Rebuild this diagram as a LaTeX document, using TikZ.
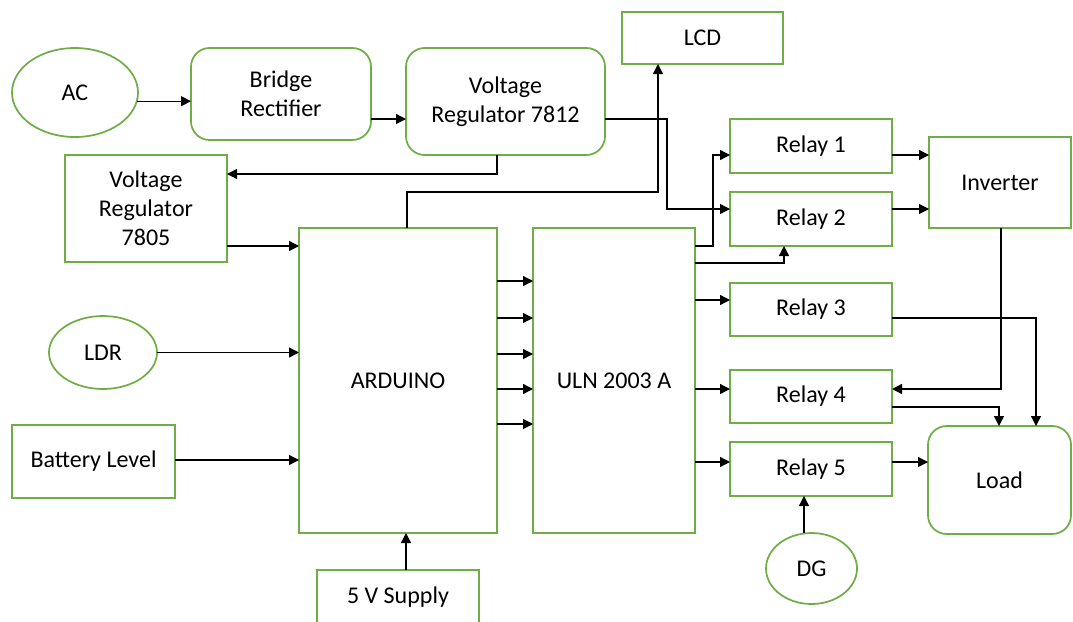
\documentclass[tikz,border=0pt]{standalone}
\usepackage{fontspec}
\setmainfont{Carlito}
\usetikzlibrary{shapes.geometric,arrows.meta}
\definecolor{boxgreen}{HTML}{70AD47}
\newcommand{\mkbox}[7][]{\node[#1, minimum width={(#5-#3)*0.75pt}, minimum height={(#6-#4)*0.75pt}] (#2) at ({(#3+#5)/2},{(#4+#6)/2}) {#7};}
\tikzset{
  base/.style={draw=boxgreen, line width=1.3pt, inner sep=0pt, outer sep=0pt, align=center,
    font=\fontsize{18}{21.75}\selectfont, text=black},
  blockbox/.style={base, rectangle},
  roundbox/.style={base, rectangle, rounded corners=14pt},
  oval/.style={base, ellipse},
  arr/.style={-{Triangle[length=7.5pt,width=7.5pt]}, line width=1pt, black}
}
\begin{document}
\begin{tikzpicture}[x=0.75pt,y=-0.75pt]
\useasboundingbox (0,0) rectangle (1073,621);
% nodes
\mkbox[oval]{ac}{12}{48}{138}{137}{AC}
\mkbox[roundbox]{bridge}{191}{48}{371}{140}{Bridge\\Rectifier}
\mkbox[roundbox]{vr12}{406}{48}{605}{155}{Voltage\\Regulator 7812}
\mkbox[blockbox]{lcd}{622}{12}{783}{64}{LCD}
\mkbox[blockbox]{vr5}{65}{155}{227}{262}{Voltage\\Regulator\\7805}
\mkbox[blockbox]{ard}{299}{228}{497}{533}{ARDUINO}
\mkbox[blockbox]{uln}{533}{228}{695}{533}{ULN 2003 A}
\mkbox[oval]{ldr}{49}{316}{157}{389}{LDR}
\mkbox[blockbox]{bat}{12}{425}{175}{498}{Battery Level}
\mkbox[blockbox]{sup}{317}{570}{479}{625}{5 V Supply}
\mkbox[blockbox]{r1}{730}{119}{892}{173}{Relay 1}
\mkbox[blockbox]{r2}{730}{192}{892}{246}{Relay 2}
\mkbox[blockbox]{r3}{730}{283}{892}{336}{Relay 3}
\mkbox[blockbox]{r4}{730}{370}{892}{423}{Relay 4}
\mkbox[blockbox]{r5}{730}{442}{892}{496}{Relay 5}
\mkbox[blockbox]{inv}{929}{137}{1071}{228}{Inverter}
\mkbox[roundbox]{load}{928}{426}{1071}{534}{Load}
\mkbox[oval]{dg}{766}{533}{857}{604}{DG}
% connectors
\draw[arr] (ac.-8) -- (ac.-8 -| bridge.west);
\draw[arr] (bridge.east |- 0,119) -- (vr12.west |- 0,119);
\draw[arr] (vr12.south -| 497,0) |- (vr5.east |- 0,174);
\draw[arr] (vr5.east |- 0,246) -- (ard.west |- 0,246);
\draw[arr] (ard.north -| 407,0) |- (658,192) -- (lcd.south -| 658,0);
\draw[arr] (vr12.east |- 0,119) -| (667,209) -- (r2.west |- 0,209);
\draw[arr] (uln.east |- 0,246) -| (713,155) -- (r1.west |- 0,155);
\draw[arr] (uln.east |- 0,263) -| (r2.south -| 784,0);
\draw[arr] (uln.east |- 0,300) -- (r3.west |- 0,300);
\draw[arr] (uln.east |- 0,389) -- (r4.west |- 0,389);
\draw[arr] (uln.east |- 0,462) -- (r5.west |- 0,462);
\foreach \yy in {281,318,354,389,424}
  \draw[arr] (ard.east |- 0,\yy) -- (uln.west |- 0,\yy);
\draw[arr] (r1.east |- 0,155) -- (inv.west |- 0,155);
\draw[arr] (r2.east |- 0,209) -- (inv.west |- 0,209);
\draw[arr] (inv.south -| 1001,0) |- (r4.east |- 0,389);
\draw[arr] (r3.east |- 0,318) -| (load.north -| 1036,0);
\draw[arr] (r4.east |- 0,407) -| (load.north -| 999,0);
\draw[arr] (r5.east |- 0,462) -- (load.west |- 0,462);
\draw[arr] (dg.north -| 804,0) -- (r5.south -| 804,0);
\draw[arr] (ldr.east) -- (ldr.east -| ard.west);
\draw[arr] (bat.east |- 0,460) -- (ard.west |- 0,460);
\draw[arr] (sup.north -| 406,0) -- (ard.south -| 406,0);
\end{tikzpicture}
\end{document}
